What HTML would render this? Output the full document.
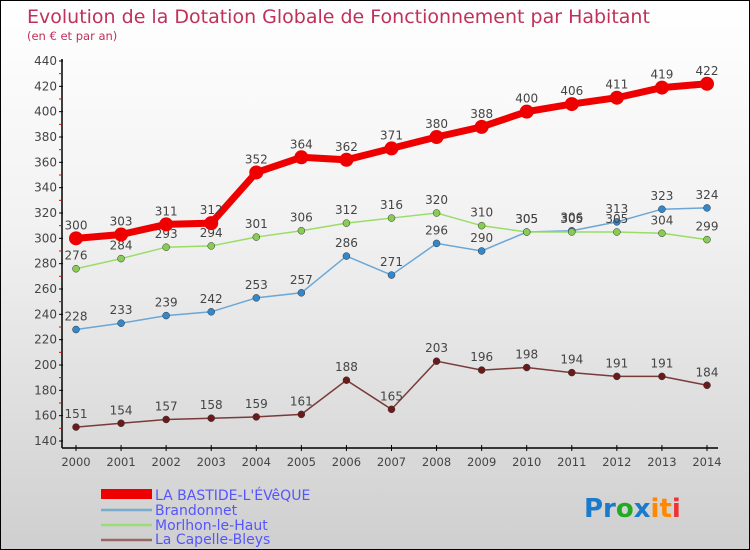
<!DOCTYPE html>
<html><head><meta charset="utf-8"><style>
body{margin:0}
#c{width:750px;height:550px;position:relative;border:1px solid #000;box-sizing:border-box;background:linear-gradient(#fff,#f2f2f2 40%,#cfcfcf);font-family:"DejaVu Sans","Liberation Sans",sans-serif;overflow:hidden}
</style></head><body>
<div id="c">
<svg id="s" width="750" height="550" style="position:absolute;left:0;top:0">
<text x="26" y="22" font-size="19" fill="#c0305a">Evolution de la Dotation Globale de Fonctionnement par Habitant</text>
<text x="26" y="39" font-size="11.5" fill="#c0305a">(en € et par an)</text>
<g id="axes"></g><g id="series"></g>
<g>
<rect x="100" y="488" width="51" height="10" fill="#e00"/>
<text x="154" y="499" font-size="14" fill="#55f">LA BASTIDE-L'ÉVêQUE</text>
<line x1="100" y1="509" x2="151" y2="509" stroke="#7aaccc" stroke-width="2.5"/>
<text x="154" y="514" font-size="14" fill="#55f">Brandonnet</text>
<line x1="100" y1="524" x2="151" y2="524" stroke="#99dd77" stroke-width="2.5"/>
<text x="154" y="529" font-size="14" fill="#55f">Morlhon-le-Haut</text>
<line x1="100" y1="539" x2="151" y2="539" stroke="#996666" stroke-width="2.5"/>
<text x="154" y="543" font-size="14" fill="#55f">La Capelle-Bleys</text>
</g>
<text x="583" y="516" font-size="26" font-weight="bold"><tspan fill="#1a7acc">Pr</tspan><tspan fill="#2a2">o</tspan><tspan fill="#1a7acc">x</tspan><tspan fill="#f80">it</tspan><tspan fill="#e33">i</tspan></text>
</svg></div>
<script>
const years=[2000,2001,2002,2003,2004,2005,2006,2007,2008,2009,2010,2011,2012,2013,2014];
const yTicks=[140,160,180,200,220,240,260,280,300,320,340,360,380,400,420,440];
const bastide=[300,303,311,312,352,364,362,371,380,388,400,406,411,419,422];
const brandonnet=[228,233,239,242,253,257,286,271,296,290,305,306,313,323,324];
const morlhon=[276,284,293,294,301,306,312,316,320,310,305,305,305,304,299];
const capelle=[151,154,157,158,159,161,188,165,203,196,198,194,191,191,184];
const NS="http://www.w3.org/2000/svg";
const X=i=>75+i*(706-75)/14, Y=v=>440-(v-140)*380/300;
function mk(t,a,p){const e=document.createElementNS(NS,t);for(const k in a)e.setAttribute(k,a[k]);p.appendChild(e);return e;}
const ax=document.getElementById('axes'),sr=document.getElementById('series');
let e=mk('line',{x1:61,y1:58,x2:61,y2:447,stroke:'#000','stroke-width':1.5},ax);


e=mk('line',{x1:61,y1:447,x2:717,y2:447,stroke:'#000','stroke-width':1.5},ax);


yTicks.forEach((v,i)=>{
 mk('line',{x1:58,x2:62,y1:Y(v),y2:Y(v),stroke:'#000'},ax);
 if(i<yTicks.length-1)mk('line',{x1:58,x2:61,y1:Y(v+10),y2:Y(v+10),stroke:'#e00'},ax);
 const t=mk('text',{x:56,y:Y(v)+4,'font-size':12,fill:'#444','text-anchor':'end'},ax);t.textContent=v;
 
 
});
years.forEach((y,i)=>{
 mk('line',{x1:X(i),x2:X(i),y1:444,y2:450,stroke:'#000'},ax);
 const t=mk('text',{x:X(i),y:465,'font-size':11.5,fill:'#444','text-anchor':'middle'},ax);t.textContent=y;
 
 
});
function draw(d,name,col,dot,w,r,lw){
 const p=mk('polyline',{points:d.map((v,i)=>X(i)+','+Y(v)).join(' '),fill:'none',stroke:col,'stroke-width':lw},sr);
 
 
 d.forEach((v,i)=>{
  const c=mk('circle',{cx:X(i),cy:Y(v),r:r,fill:dot,stroke:'#333','stroke-width':w},sr);
  
  
  const t=mk('text',{x:X(i),y:Y(v)-9,'font-size':12,fill:'#444','text-anchor':'middle'},sr);t.textContent=v;
  
  
 });
}
draw(capelle,'capelle','#7a3a3a','#6a1a1a',0.5,3.5,1.5);
draw(brandonnet,'brandonnet','#6aa6d6','#3388cc',0.5,3.5,1.5);
draw(morlhon,'morlhon','#99dd66','#88cc55',0.5,3.5,1.5);
draw(bastide,'bastide','#e00','#e00',0,7,7);
</script></body></html>
